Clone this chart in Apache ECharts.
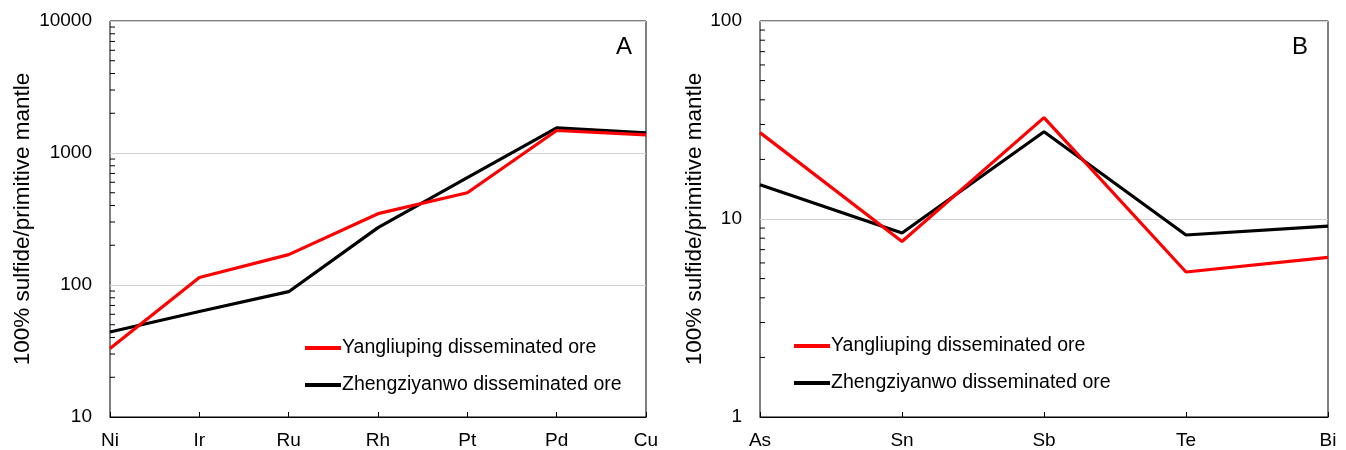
<!DOCTYPE html>
<html>
<head>
<meta charset="utf-8">
<script src="https://cdn.jsdelivr.net/npm/echarts@6/dist/echarts.min.js"></script>
<style>
  html, body { margin: 0; padding: 0; background: #fff; }
  #main { width: 1346px; height: 450px; }
</style>
</head>
<body>
<div id="main"></div>
<script>
// ---- data ----
var pgeCats = ['Ni', 'Ir', 'Ru', 'Rh', 'Pt', 'Pd', 'Cu'];
var pgeYang = [33, 114, 170, 347, 500, 1480, 1370];
var pgeZheng = [44, 63, 89, 272, 650, 1550, 1420];

var semiCats = ['As', 'Sn', 'Sb', 'Te', 'Bi'];
var semiYang = [27.3, 7.7, 32.5, 5.4, 6.4];
var semiZheng = [14.9, 8.5, 27.6, 8.3, 9.2];

// minor (unlabelled) log ticks on the y axes
var pgeMinor = [20, 30, 40, 50, 60, 70, 80, 90, 200, 300, 400, 500, 600, 700, 800, 900,
                2000, 3000, 4000, 5000, 6000, 7000, 8000, 9000];
var semiMinor = [2, 3, 4, 5, 6, 7, 8, 9, 20, 30, 40, 50, 60, 70, 80, 90];

var nameYang = 'Yangliuping disseminated ore';
var nameZheng = 'Zhengziyanwo disseminated ore';
var yTitle = '100% sulfide/primitive mantle';

var FONT = '"Liberation Sans", Arial, sans-serif';
var RED = '#ff0000';
var BLACK = '#000000';

function xAxisOf(idx, cats) {
  return {
    type: 'category', gridIndex: idx, data: cats, boundaryGap: false,
    axisLine: { lineStyle: { color: '#000', width: 1 } },
    axisTick: { inside: true, length: 5, lineStyle: { color: '#000' } },
    axisLabel: { color: '#000', fontSize: 19, fontFamily: FONT, margin: 14 },
    splitLine: { show: false }
  };
}

function yAxisOf(idx, min, max, gap) {
  return {
    type: 'log', gridIndex: idx, logBase: 10, min: min, max: max,
    name: yTitle, nameLocation: 'middle', nameGap: gap,
    nameTextStyle: { color: '#000', fontSize: 22.5, fontFamily: FONT },
    axisLine: { lineStyle: { color: '#000', width: 1 } },
    axisTick: { inside: true, length: 5, lineStyle: { color: '#000' } },
    axisLabel: {
      color: '#000', fontSize: 19, fontFamily: FONT, margin: 18,
      formatter: function (v) { return String(Math.round(v)); }
    },
    splitLine: { show: true, lineStyle: { color: '#d0d0d0', width: 1 } }
  };
}

function lineOf(name, x, y, data, color) {
  return {
    name: name, type: 'line', xAxisIndex: x, yAxisIndex: y, data: data,
    symbol: 'none', lineStyle: { color: color, width: 3.2 }, itemStyle: { color: color },
    z: color === RED ? 3 : 2
  };
}

function minorTicksOf(idx, values) {
  return {
    type: 'custom', xAxisIndex: idx, yAxisIndex: idx, silent: true, z: 1,
    data: values.map(function (v) { return [0, v]; }),
    renderItem: function (params, api) {
      var p = api.coord([0, api.value(1)]);
      return {
        type: 'line',
        shape: { x1: p[0], y1: p[1], x2: p[0] + 5, y2: p[1] },
        style: { stroke: '#000', lineWidth: 1 }
      };
    }
  };
}

function legendOf(left, top) {
  return {
    orient: 'vertical', left: left, top: top, itemGap: 17,
    icon: 'rect', itemWidth: 36, itemHeight: 4,
    data: [nameYang, nameZheng],
    textStyle: { color: '#000', fontSize: 19.5, fontFamily: FONT, padding: [0, 0, 0, -4] },
    selectedMode: false
  };
}

var chart = echarts.init(document.getElementById('main'));
var option = {
  animation: false,
  backgroundColor: '#fff',
  grid: [
    { left: 110, top: 21, width: 536, height: 397, show: true, borderColor: '#000', borderWidth: 1, backgroundColor: 'transparent' },
    { left: 760, top: 21, width: 568, height: 397, show: true, borderColor: '#000', borderWidth: 1, backgroundColor: 'transparent' }
  ],
  xAxis: [xAxisOf(0, pgeCats), xAxisOf(1, semiCats)],
  yAxis: [yAxisOf(0, 10, 10000, 76), yAxisOf(1, 1, 100, 54)],
  legend: [legendOf(300, 333), legendOf(789, 331)],
  title: [
    { text: 'A', left: 611, top: 30, textStyle: { fontSize: 24, fontWeight: 'normal', color: '#000', fontFamily: FONT } },
    { text: 'B', left: 1287, top: 30, textStyle: { fontSize: 24, fontWeight: 'normal', color: '#000', fontFamily: FONT } }
  ],
  series: [
    minorTicksOf(0, pgeMinor),
    minorTicksOf(1, semiMinor),
    lineOf(nameZheng, 0, 0, pgeZheng, BLACK),
    lineOf(nameYang, 0, 0, pgeYang, RED),
    lineOf(nameZheng, 1, 1, semiZheng, BLACK),
    lineOf(nameYang, 1, 1, semiYang, RED)
  ]
};
chart.setOption(option);
</script>
</body>
</html>
